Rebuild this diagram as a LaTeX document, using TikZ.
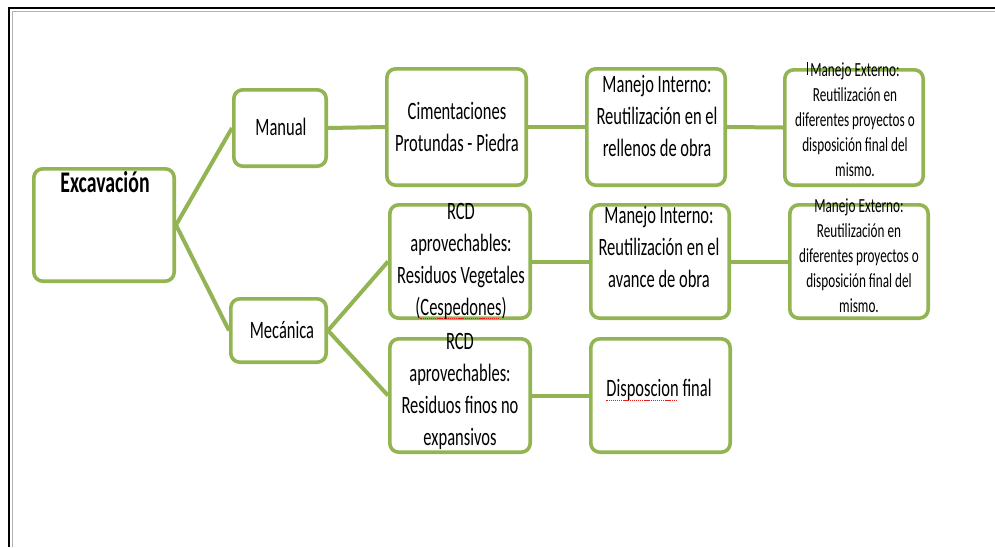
\documentclass[tikz,border=0pt]{standalone}
\usepackage{fontspec}
\setmainfont{Carlito}[FakeStretch=0.66]
\definecolor{leaf}{RGB}{146,180,83}
\definecolor{spell}{RGB}{230,30,30}
% red dotted spell-check underline
\newsavebox\spellbox
\newcommand\spellmark[1]{\sbox\spellbox{#1}\rlap{\hbox to \wd\spellbox{\leaders\hbox{\textcolor{spell}{\rule[-4pt]{1.3pt}{1pt}}\hskip0.8pt}\hfill}}\usebox\spellbox}
\tikzset{
  gbox/.style={draw=leaf, line width=3.6pt, rounded corners=9pt, fill=white, inner sep=0pt},
  conn/.style={draw=leaf, line width=4pt},
  txt/.style={align=center, inner sep=0pt, font=\fontsize{25}{32}\selectfont},
  smalltxt/.style={align=center, inner sep=0pt, font=\fontsize{20}{25}\selectfont},
  frame/.style={draw=black, line width=2pt},
}
% box from its outer corners: name, x1, y1, x2, y2
\newcommand\gbox[5]{\node[gbox, minimum width={#4-#2-3.6}, minimum height={#5-#3-3.6}] (#1) at ({(#2+#4)/2},{(#3+#5)/2}) {};}
\begin{document}
\begin{tikzpicture}[x=1pt, y=-1pt]
\useasboundingbox (0,0) rectangle (995,547);
% page frame
\draw[gray!60, line width=1pt] (995,11) -- (12,11) -- (12,547);
\draw[frame] (995,8) -- (9,8) -- (9,547);

% boxes
\gbox{exc}{32}{167}{176}{283}
\gbox{manual}{232}{88}{328}{168}
\gbox{mec}{229}{297}{328}{364}
\gbox{cim}{385}{67}{528}{187}
\gbox{rcda}{388}{203}{532}{320}
\gbox{rcdb}{388}{337}{532}{454}
\gbox{mia}{585}{67}{727}{187}
\gbox{mib}{589}{203}{731}{320}
\gbox{disp}{589}{337}{732}{454}
\gbox{mea}{783}{68}{925}{187}
\gbox{meb}{788}{203}{930}{320}

% connectors
\draw[conn] (exc.east) -- (manual.west);
\draw[conn] (exc.east) -- (mec.west);
\draw[conn] (manual.east) -- (cim.west);
\draw[conn] (cim.east) -- (mia.west);
\draw[conn] (mia.east) -- (mea.west);
\draw[conn] (mec.east) -- (rcda.west);
\draw[conn] (mec.east) -- (rcdb.west);
\draw[conn] (rcda.east) -- (mib.west);
\draw[conn] (mib.east) -- (meb.west);
\draw[conn] (rcdb.east) -- (disp.west);

% texts
\node[txt, font=\fontsize{30}{34}\selectfont\bfseries] (t-exc) at (105,182) {Excavación};
\node[txt] (t-manual) at (281,127) {Manual};
\node[txt] (t-mec) at (282,330) {Mecánica};
\node[txt] (t-cim) at (457,127) {Cimentaciones\\Protundas - Piedra};
\node[txt] (t-mia) at (657,116) {Manejo Interno:\\Reutilización en el\\rellenos de obra};
\node[txt] (t-rcda) at (461,261) {RCD\\aprovechables:\\Residuos Vegetales\\(\spellmark{Cespedones})};
\node[txt] (t-mib) at (659,247) {Manejo Interno:\\Reutilización en el\\avance de obra};
\node[txt] (t-rcdb) at (460,391) {RCD\\aprovechables:\\Residuos finos no\\expansivos};
\node[txt] (t-disp) at (659,390) {\spellmark{Disposcion} final};
\node[smalltxt] (t-mea) at (855,120) {Manejo Externo:\\Reutilización en\\diferentes proyectos o\\disposición final del\\mismo.};
\node[smalltxt] (t-meb) at (859,256) {Manejo Externo:\\Reutilización en\\diferentes proyectos o\\disposición final del\\mismo.};

% text caret in the upper external box
\coordinate (caret) at (807,62);
\draw[black, line width=0.8pt] (caret) -- ++(0,13);
\end{tikzpicture}
\end{document}
